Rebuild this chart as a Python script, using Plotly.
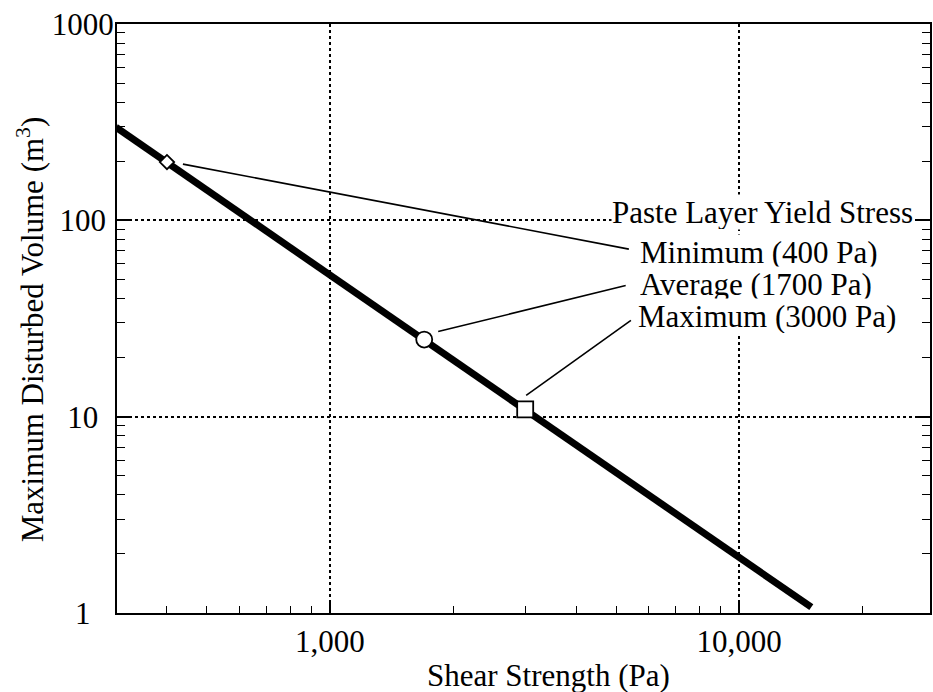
import math
import plotly.graph_objects as go

# ---- data ----
line_x = [300, 15000]          # Shear strength (Pa), ends of the fitted line
line_y = [298, 1.07]           # Maximum disturbed volume (m3)

marker_names = ["Minimum (400 Pa)", "Average (1700 Pa)", "Maximum (3000 Pa)"]
marker_x = [400, 1700, 3000]
marker_y = [198, 24.7, 10.9]
marker_symbols = ["diamond", "circle", "square"]

legend_title = "Paste Layer Yield Stress"

x_tick_vals = [1000, 10000]
x_tick_text = ["1,000", "10,000"]
x_minor_vals = [400, 500, 600, 700, 800, 900,
                2000, 3000, 4000, 5000, 6000, 7000, 8000, 9000, 20000]
y_tick_vals = [1, 10, 100, 1000]
y_tick_text = ["1", "10", "100", "1000"]
y_minor_vals = [m * d for d in (1, 10, 100) for m in range(2, 10)]

x_title = "Shear Strength (Pa)"
y_title = "Maximum Disturbed Volume (m<sup>3</sup>)"

# ---- layout constants ----
FONT = "Liberation Serif"
FS = 31
W, H = 933, 692
ML, MR, MT, MB = 117, 1, 24, 79
XR = [2.480, 4.466]
YR = [0.0, 3.0]
PW, PH = W - ML - MR, H - MT - MB
PX_X = PW / (XR[1] - XR[0])     # pixels per decade along x
PX_Y = PH / (YR[1] - YR[0])     # pixels per decade along y

fig = go.Figure()
fig.add_trace(go.Scatter(x=line_x, y=line_y, mode="lines",
                         line=dict(color="black", width=7),
                         showlegend=False, hoverinfo="skip"))

# leader lines: start / end offsets in pixels from each marker (x right, y down)
leader_offsets = [((16, 2), (463, 87)),
                  ((14, -8), (202, -54)),
                  ((1, -14), (106, -89))]
for xv, yv, offs in zip(marker_x, marker_y, leader_offsets):
    lx = [10 ** (math.log10(xv) + dx / PX_X) for dx, dy in offs]
    ly = [10 ** (math.log10(yv) - dy / PX_Y) for dx, dy in offs]
    fig.add_trace(go.Scatter(x=lx, y=ly, mode="lines",
                             line=dict(color="black", width=1.6),
                             showlegend=False, hoverinfo="skip"))

sizes = [11, 16, 16]
for name, xv, yv, sym, sz in zip(marker_names, marker_x, marker_y, marker_symbols, sizes):
    fig.add_trace(go.Scatter(x=[xv], y=[yv], mode="markers", name=name,
                             marker=dict(symbol=sym, size=sz, color="white",
                                         line=dict(color="black", width=1.8)),
                             showlegend=False))

# centred-looking y tick labels (pad with no-break spaces)
maxlen = max(len(t) for t in y_tick_text)
y_tick_padded = [t + "\u00a0" * (maxlen - len(t)) for t in y_tick_text]

fig.update_layout(
    width=W, height=H,
    margin=dict(l=ML, r=MR, t=MT, b=MB),
    paper_bgcolor="white", plot_bgcolor="white",
    font=dict(family=FONT, size=FS, color="black"),
    showlegend=False,
    xaxis=dict(type="log", range=XR,
               tickmode="array", tickvals=x_tick_vals, ticktext=x_tick_text,
               ticks="inside", ticklen=13, tickwidth=1.5, tickcolor="black",
               showline=True, linecolor="black", linewidth=2, mirror=True,
               showgrid=True, gridcolor="black", gridwidth=1.5, griddash="dot",
               minor=dict(tickmode="array", tickvals=x_minor_vals, ticks="inside",
                          ticklen=7, tickwidth=1.3, tickcolor="black", showgrid=False),
               zeroline=False,
               tickfont=dict(family=FONT, size=FS)),
    yaxis=dict(type="log", range=YR,
               tickmode="array", tickvals=y_tick_vals, ticktext=y_tick_padded,
               ticks="inside", ticklen=14, tickwidth=1.5, tickcolor="black",
               showline=True, linecolor="black", linewidth=2, mirror="ticks",
               showgrid=True, gridcolor="black", gridwidth=1.5, griddash="dot",
               minor=dict(tickmode="array", tickvals=y_minor_vals, ticks="inside",
                          ticklen=8, tickwidth=1.3, tickcolor="black", showgrid=False),
               zeroline=False, ticklabelstandoff=-5,
               tickfont=dict(family=FONT, size=FS)),
)

# axis titles as annotations (placed like the reference)
fig.add_annotation(text=y_title, xref="paper", yref="paper",
                   x=-0.1067, y=0.482, textangle=-90, showarrow=False,
                   xanchor="center", yanchor="middle",
                   font=dict(family=FONT, size=FS))
fig.add_annotation(text=x_title, xref="paper", yref="paper",
                   x=0.5313, y=-0.106, showarrow=False,
                   xanchor="center", yanchor="middle",
                   font=dict(family=FONT, size=FS))

# legend-like labels with white background
label_pos = [(0.6417, 0.6129), (0.6417, 0.5586), (0.6393, 0.5042)]
fig.add_annotation(text=legend_title, xref="paper", yref="paper",
                   x=0.6074, y=0.6808, xanchor="left", yanchor="middle",
                   showarrow=False, bgcolor="white", borderpad=0, height=34,
                   font=dict(family=FONT, size=FS))
for name, (px, py) in zip(marker_names, label_pos):
    fig.add_annotation(text=name, xref="paper", yref="paper",
                       x=px, y=py, xanchor="left", yanchor="middle",
                       showarrow=False, bgcolor="white", borderpad=0, height=34,
                       font=dict(family=FONT, size=FS))

fig.write_html("out.html")
